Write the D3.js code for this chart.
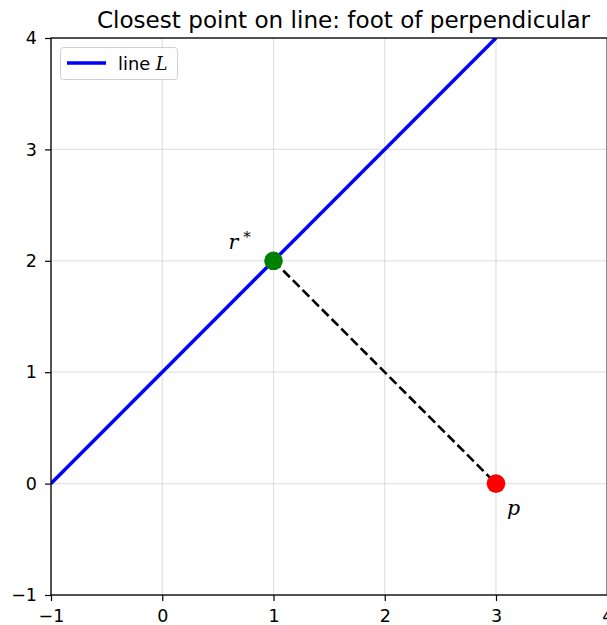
<!DOCTYPE html>
<html><head><meta charset="utf-8">
<script src="https://cdn.jsdelivr.net/npm/d3@7"></script>
<style>body{margin:0;background:#fff}svg{display:block}</style>
</head><body>
<svg id="c" width="607" height="625"></svg>
<script>
const xTicks = [-1, 0, 1, 2, 3, 4];
const yTicks = [-1, 0, 1, 2, 3, 4];
const lineL = [[-1, 0], [3, 4]];
const perpSeg = [[1, 2], [3, 0]];
const footPoint = [1, 2];
const pointP = [3, 0];
const title = "Closest point on line: foot of perpendicular";

const svg = d3.select("#c");
const L = 51, R = 607.25, T = 38, B = 595;
const x = d3.scaleLinear().domain([-1, 4]).range([L, R]);
const y = d3.scaleLinear().domain([-1, 4]).range([B, T]);
const font = "DejaVu Sans, sans-serif";

// grid
const g = svg.append("g");
g.selectAll(".gx").data(xTicks).enter().append("line")
  .attr("x1", d => x(d)).attr("x2", d => x(d)).attr("y1", T).attr("y2", B)
  .attr("stroke", "#b0b0b0").attr("stroke-opacity", 0.35).attr("stroke-width", 1.3);
g.selectAll(".gy").data(yTicks).enter().append("line")
  .attr("y1", d => y(d)).attr("y2", d => y(d)).attr("x1", L).attr("x2", R)
  .attr("stroke", "#b0b0b0").attr("stroke-opacity", 0.35).attr("stroke-width", 1.3);

const defs = svg.append("defs");
defs.append("clipPath").attr("id", "clip").append("rect")
  .attr("x", L).attr("y", T).attr("width", R - L).attr("height", B - T);

const line = d3.line().x(d => x(d[0])).y(d => y(d[1]));
const plot = svg.append("g").attr("clip-path", "url(#clip)");
plot.append("path").datum(lineL).attr("d", line)
  .attr("stroke", "#0000ff").attr("stroke-width", 3.5).attr("fill", "none");
plot.append("path").datum(perpSeg).attr("d", line)
  .attr("stroke", "#000").attr("stroke-width", 2.6).attr("fill", "none")
  .attr("stroke-dasharray", "9.5,4.2");
plot.append("circle").attr("cx", x(footPoint[0])).attr("cy", y(footPoint[1]))
  .attr("r", 9.3).attr("fill", "#008000");
plot.append("circle").attr("cx", x(pointP[0])).attr("cy", y(pointP[1]))
  .attr("r", 9.3).attr("fill", "#ff0000");

// labels
const r = svg.append("text").attr("x", x(footPoint[0]) - 45).attr("y", y(footPoint[1]) - 12)
  .attr("font-family", "DejaVu Serif, serif").attr("font-style", "italic").attr("font-size", 20.5);
r.append("tspan").text("r");
r.append("tspan").attr("dx", 5).attr("dy", -7).attr("font-size", 15).attr("font-style", "normal").text("*");
svg.append("text").attr("x", x(pointP[0]) + 11).attr("y", y(pointP[1]) + 31)
  .attr("font-family", "DejaVu Serif, serif").attr("font-style", "italic").attr("font-size", 20.5).text("p");

// axes
const fmt = d => d < 0 ? "\u2212" + Math.abs(d) : d;
const xa = svg.append("g").attr("transform", `translate(0,${B})`)
  .call(d3.axisBottom(x).tickValues(xTicks).tickFormat(fmt).tickSize(6).tickPadding(5));
const ya = svg.append("g").attr("transform", `translate(${L},0)`)
  .call(d3.axisLeft(y).tickValues(yTicks).tickFormat(fmt).tickSize(6).tickPadding(8));
[xa, ya].forEach(a => {
  a.select(".domain").remove();
  a.selectAll("text").attr("font-family", font).attr("font-size", 17.5).attr("fill", "#000");
  a.selectAll("line").attr("stroke", "#000").attr("stroke-width", 1.2);
});
xa.selectAll("text").attr("dy", "0.9em");
// spines
svg.append("rect").attr("x", L).attr("y", T).attr("width", R - L).attr("height", B - T)
  .attr("fill", "none").attr("stroke", "#000").attr("stroke-width", 1.3);

// legend
const lg = svg.append("g");
lg.append("rect").attr("x", 60.5).attr("y", 47.5).attr("width", 117).attr("height", 32).attr("rx", 3)
  .attr("fill", "#fff").attr("fill-opacity", 0.8).attr("stroke", "#d0d0d0");
lg.append("line").attr("x1", 67).attr("x2", 106).attr("y1", 63).attr("y2", 63)
  .attr("stroke", "#0000ff").attr("stroke-width", 3.5);
const lt = lg.append("text").attr("x", 118).attr("y", 69.5).attr("font-family", font).attr("font-size", 17.8);
lt.append("tspan").text("line ");
lt.append("tspan").attr("font-family", "DejaVu Serif, serif").attr("font-style", "italic").text("L");

svg.append("text").attr("x", 343.5).attr("y", 28).attr("text-anchor", "middle")
  .attr("font-family", font).attr("font-size", 23.1).text(title);
</script>
</body></html>
